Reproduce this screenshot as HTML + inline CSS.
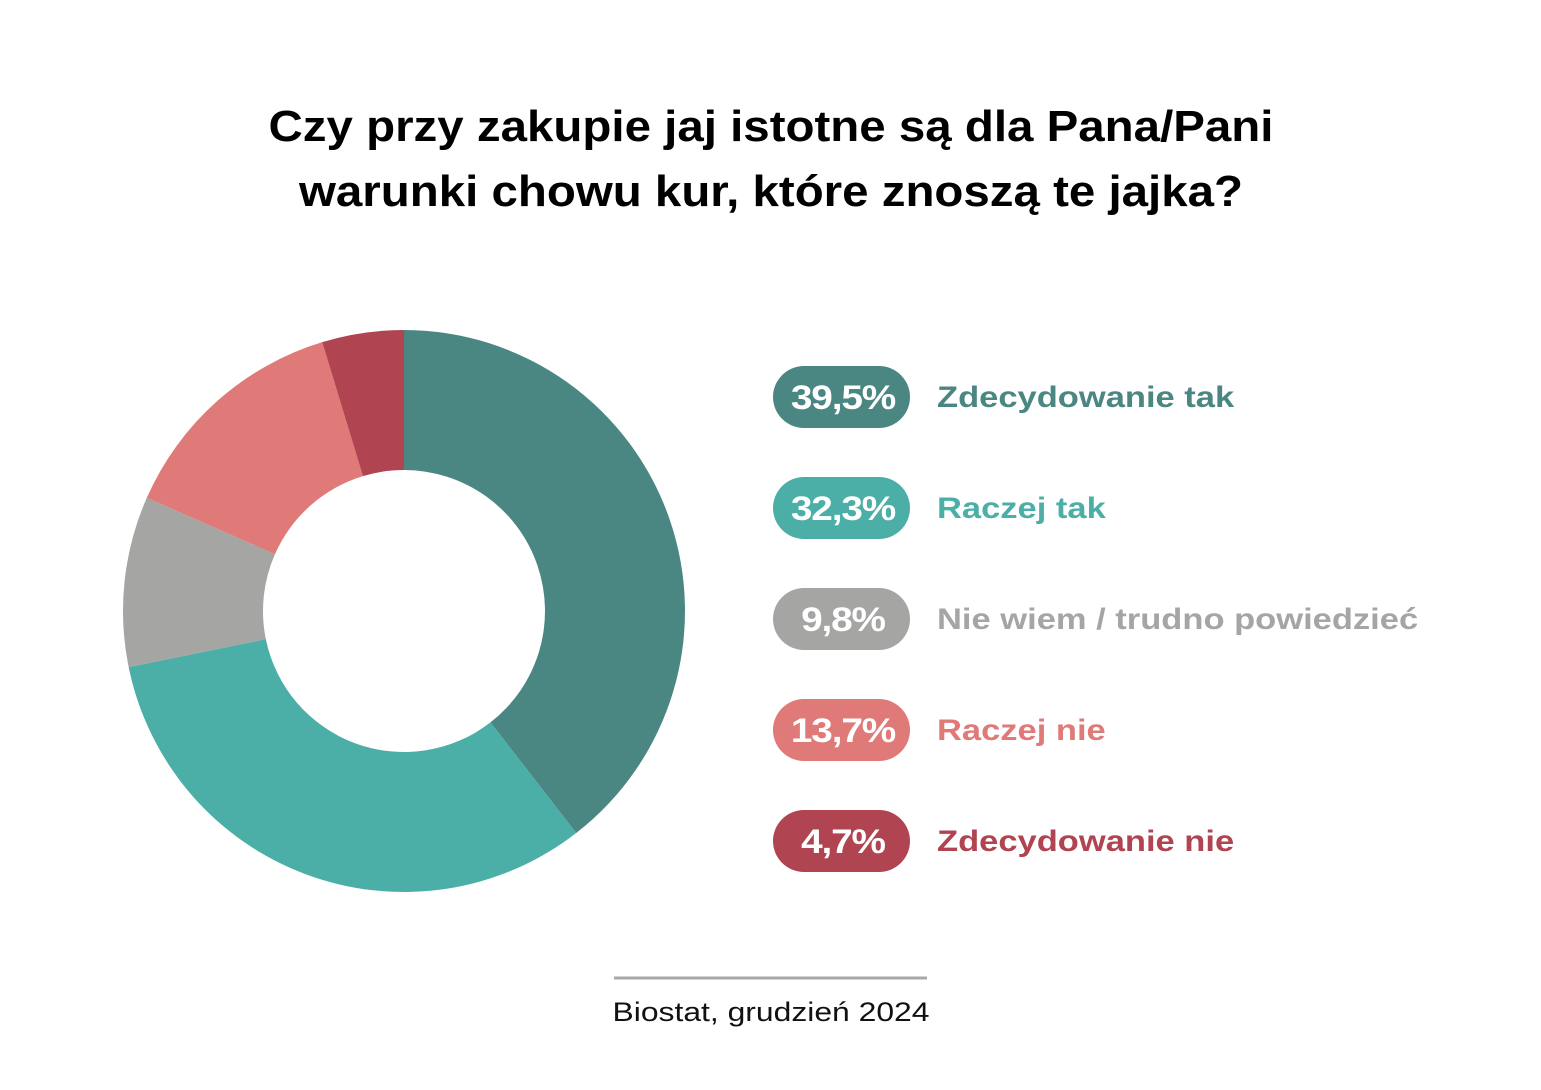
<!DOCTYPE html>
<html><head><meta charset="utf-8">
<style>
body{margin:0;background:#fff;width:1541px;height:1090px;overflow:hidden;font-family:"Liberation Sans",sans-serif;}
svg{display:block}
</style></head>
<body>
<svg width="1541" height="1090" viewBox="0 0 1541 1090">
<text x="771" y="141" text-anchor="middle" font-size="44" font-weight="bold" fill="#000" textLength="1005" lengthAdjust="spacingAndGlyphs">Czy przy zakupie jaj istotne są dla Pana/Pani</text>
<text x="771" y="206" text-anchor="middle" font-size="44" font-weight="bold" fill="#000" textLength="944" lengthAdjust="spacingAndGlyphs">warunki chowu kur, które znoszą te jajka?</text>
<g id="donut"></g>
<g id="legend"></g>
<line x1="614" y1="978" x2="927" y2="978" stroke="#a8a8a8" stroke-width="3"/>
<text x="771" y="1021" text-anchor="middle" font-size="27" fill="#111" textLength="317" lengthAdjust="spacingAndGlyphs">Biostat, grudzień 2024</text>
</svg>
<script>
const categories=["Zdecydowanie tak","Raczej tak","Nie wiem / trudno powiedzieć","Raczej nie","Zdecydowanie nie"];
const values=[39.5,32.3,9.8,13.7,4.7];
const labels=["39,5%","32,3%","9,8%","13,7%","4,7%"];
const colors=["#4A8783","#4BAFA7","#A5A5A3","#DF7A78","#B04451"];
const NS="http://www.w3.org/2000/svg";
const cx=404,cy=611,R=281,r=141;
const total=values.reduce((a,b)=>a+b,0);
function pt(a,rad){return [cx+rad*Math.sin(a),cy-rad*Math.cos(a)];}
let acc=0;
const donut=document.getElementById('donut');
values.forEach((v,i)=>{
  const a0=acc/total*2*Math.PI;acc+=v;const a1=acc/total*2*Math.PI;
  const lg=(a1-a0)>Math.PI?1:0;
  const p0=pt(a0,R),p1=pt(a1,R),q1=pt(a1,r),q0=pt(a0,r);
  const p=document.createElementNS(NS,'path');
  p.setAttribute('d',`M${p0[0]},${p0[1]}A${R},${R} 0 ${lg} 1 ${p1[0]},${p1[1]}L${q1[0]},${q1[1]}A${r},${r} 0 ${lg} 0 ${q0[0]},${q0[1]}Z`);
  p.setAttribute('fill',colors[i]);
  
  
  donut.appendChild(p);
});
const legend=document.getElementById('legend');
categories.forEach((c,i)=>{
  const y=397+i*111;
  const g=document.createElementNS(NS,'g');
  
  
  const rect=document.createElementNS(NS,'rect');
  rect.setAttribute('x',773);rect.setAttribute('y',y-31);rect.setAttribute('width',137);rect.setAttribute('height',62);rect.setAttribute('rx',31);rect.setAttribute('fill',colors[i]);
  
  
  g.appendChild(rect);
  const t=document.createElementNS(NS,'text');
  t.setAttribute('x',843);t.setAttribute('y',y+12);t.setAttribute('text-anchor','middle');t.setAttribute('font-size','34');t.setAttribute('font-weight','bold');t.setAttribute('fill','#fff');t.setAttribute('letter-spacing','-1');
  t.textContent=labels[i];
  
  
  g.appendChild(t);
  const l=document.createElementNS(NS,'text');
  l.setAttribute('x',937);l.setAttribute('y',y+10);l.setAttribute('font-size','30');l.setAttribute('font-weight','bold');l.setAttribute('fill',colors[i]);
  l.textContent=c;
  
  
  g.appendChild(l);
  legend.appendChild(g);
  const tw=t.getComputedTextLength();
  t.setAttribute('textLength',tw*1.14);
  t.setAttribute('lengthAdjust','spacingAndGlyphs');
  const lw=l.getComputedTextLength();
  l.setAttribute('textLength',lw*1.15);
  l.setAttribute('lengthAdjust','spacingAndGlyphs');
});
</script>
</body></html>
